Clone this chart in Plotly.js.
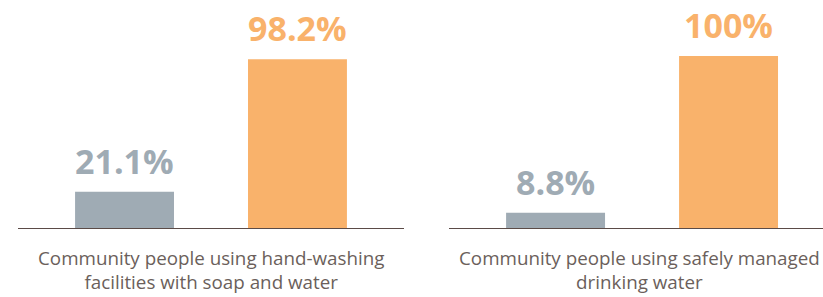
<!DOCTYPE html>
<html><head><meta charset="utf-8">
<script src="https://cdn.plot.ly/plotly-3.0.1.min.js"></script>
<style>html,body{margin:0;padding:0;background:#fff}#chart{width:823px;height:297px}</style>
</head><body><div id="chart"></div>
<script>
const groups = ["Before", "After"];
const handwashValues = [21.1, 98.2];
const waterValues = [8.8, 100];
const handwashLabels = ["21.1%", "98.2%"];
const waterLabels = ["8.8%", "100%"];
const panelTitles = ["Community people using hand-washing<br>facilities with soap and water",
                     "Community people using safely managed<br>drinking water"];
const barColors = ["#9fabb4", "#f9b26b"];

const xpos = [0, 1];
const traces = [
  {type:'bar', x:xpos, y:handwashValues, xaxis:'x', yaxis:'y', width:0.572,
   marker:{color:barColors}, hoverinfo:'skip'},
  {type:'bar', x:xpos, y:waterValues, xaxis:'x2', yaxis:'y2', width:0.572,
   marker:{color:barColors}, hoverinfo:'skip'}
];

const annotations = [];
function addLabels(vals, labels, xa, ya){
  vals.forEach((v,i)=>{
    annotations.push({x:xpos[i], y:v, xref:xa, yref:ya, text:labels[i], showarrow:false,
      yanchor:'bottom', yshift:6,
      font:{family:'Open Sans', size:34, color:barColors[i], weight:700}});
  });
}
addLabels(handwashValues, handwashLabels, 'x', 'y');
addLabels(waterValues, waterLabels, 'x2', 'y2');
annotations.push({x:0.5, xref:'x', y:0, yref:'paper', yanchor:'top', yshift:-15,
  text:panelTitles[0], showarrow:false, align:'center',
  font:{family:'Open Sans', size:18.8, color:'#6b5f5b'}});
annotations.push({x:0.5, xref:'x2', y:0, yref:'paper', yanchor:'top', yshift:-15, xshift:-3,
  text:panelTitles[1], showarrow:false, align:'center',
  font:{family:'Open Sans', size:18.8, color:'#6b5f5b'}});

const axX = {showline:true, linecolor:'#5b4b47', linewidth:1, showgrid:false, zeroline:false,
  showticklabels:false, ticks:'', fixedrange:true};
const axY = {range:[0,132.6], showgrid:false, zeroline:false, showticklabels:false, showline:false, fixedrange:true};

const layout = {
  width:823, height:297, margin:{l:0, r:0, t:0, b:69},
  paper_bgcolor:'#fff', plot_bgcolor:'#fff', showlegend:false,
  xaxis:Object.assign({}, axX, {domain:[18/823, 404/823], range:[-0.616, 1.616], anchor:'y'}),
  yaxis:Object.assign({}, axY, {anchor:'x'}),
  xaxis2:Object.assign({}, axX, {domain:[449/823, 1], range:[-0.616, 1.546], anchor:'y2'}),
  yaxis2:Object.assign({}, axY, {anchor:'x2'}),
  annotations:annotations
};
Plotly.newPlot('chart', traces, layout, {staticPlot:true, displayModeBar:false});
</script></body></html>
